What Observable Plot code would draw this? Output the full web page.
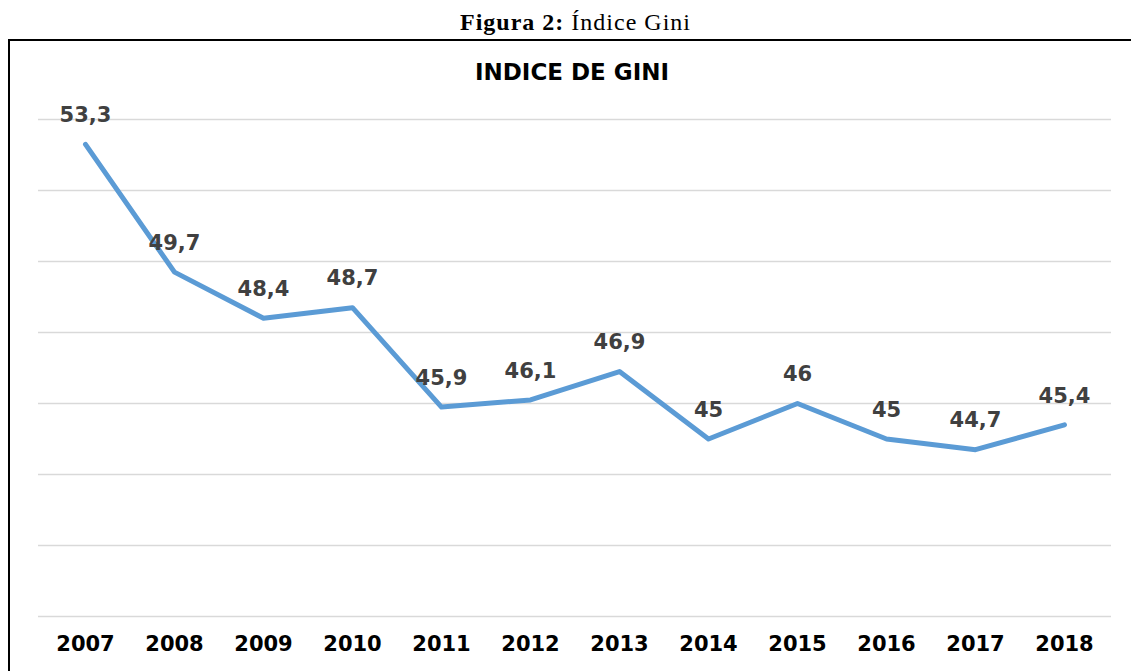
<!DOCTYPE html>
<html>
<head>
<meta charset="utf-8">
<script src="https://cdn.jsdelivr.net/npm/d3@7"></script>
<script src="https://cdn.jsdelivr.net/npm/@observablehq/plot@0.6"></script>
<style>
  html, body { margin: 0; padding: 0; background: #fff; overflow: hidden; }
  #wrap { position: relative; width: 1131px; height: 671px; overflow: hidden; }
  #figtitle { position: absolute; left: 0; top: 10px; width: 1151px; text-align: center;
    font-family: "Liberation Serif", "Times New Roman", serif; font-size: 24px; line-height: 24px; letter-spacing: 1px; color: #000; }
  #box { position: absolute; left: 8px; top: 39px; width: 1160px; height: 700px; border: 2px solid #000; box-sizing: border-box; }
  #charttitle { position: absolute; left: 0; top: 61px; width: 1144px; text-align: center;
    font-family: "DejaVu Sans", Verdana, sans-serif; font-weight: bold; font-size: 23px; line-height: 23px; color: #000; }
  #chart { position: absolute; left: 0; top: 0; }
</style>
</head>
<body>
<div id="wrap">
  <div id="figtitle"><b>Figura 2:</b> Índice Gini</div>
  <div id="box"></div>
  <div id="charttitle">INDICE DE GINI</div>
  <div id="chart"></div>
</div>
<script>
const years = ["2007","2008","2009","2010","2011","2012","2013","2014","2015","2016","2017","2018"];
const gini = [53.3, 49.7, 48.4, 48.7, 45.9, 46.1, 46.9, 45, 46, 45, 44.7, 45.4];
const gridValues = [40, 42, 44, 46, 48, 50, 52, 54];

const data = years.map((year, i) => ({year, value: gini[i], label: String(gini[i]).replace(".", ",")}));

const chart = Plot.plot({
  width: 1131,
  height: 671,
  marginLeft: 38,
  marginRight: 20,
  marginTop: 119,
  marginBottom: 55,
  style: {fontFamily: "'DejaVu Sans', Verdana, sans-serif", background: "transparent", overflow: "visible"},
  x: {type: "point", domain: years, padding: 0.5},
  y: {domain: [40, 54], axis: null},
  marks: [
    Plot.ruleY(gridValues, {stroke: "#d9d9d9", strokeWidth: 1.5}),
    Plot.line(data, {x: "year", y: "value", stroke: "#5b9bd5", strokeWidth: 5, strokeLinecap: "round", strokeLinejoin: "round"}),
    Plot.text(data, {x: "year", y: "value", text: "label", dy: -29, fill: "#404040", fontWeight: "bold", fontSize: 21}),
    Plot.axisX({tickSize: 0, tickPadding: 20, fontSize: 21, fontWeight: "bold", fill: "#000", label: null})
  ]
});
document.getElementById("chart").appendChild(chart);
</script>
</body>
</html>
